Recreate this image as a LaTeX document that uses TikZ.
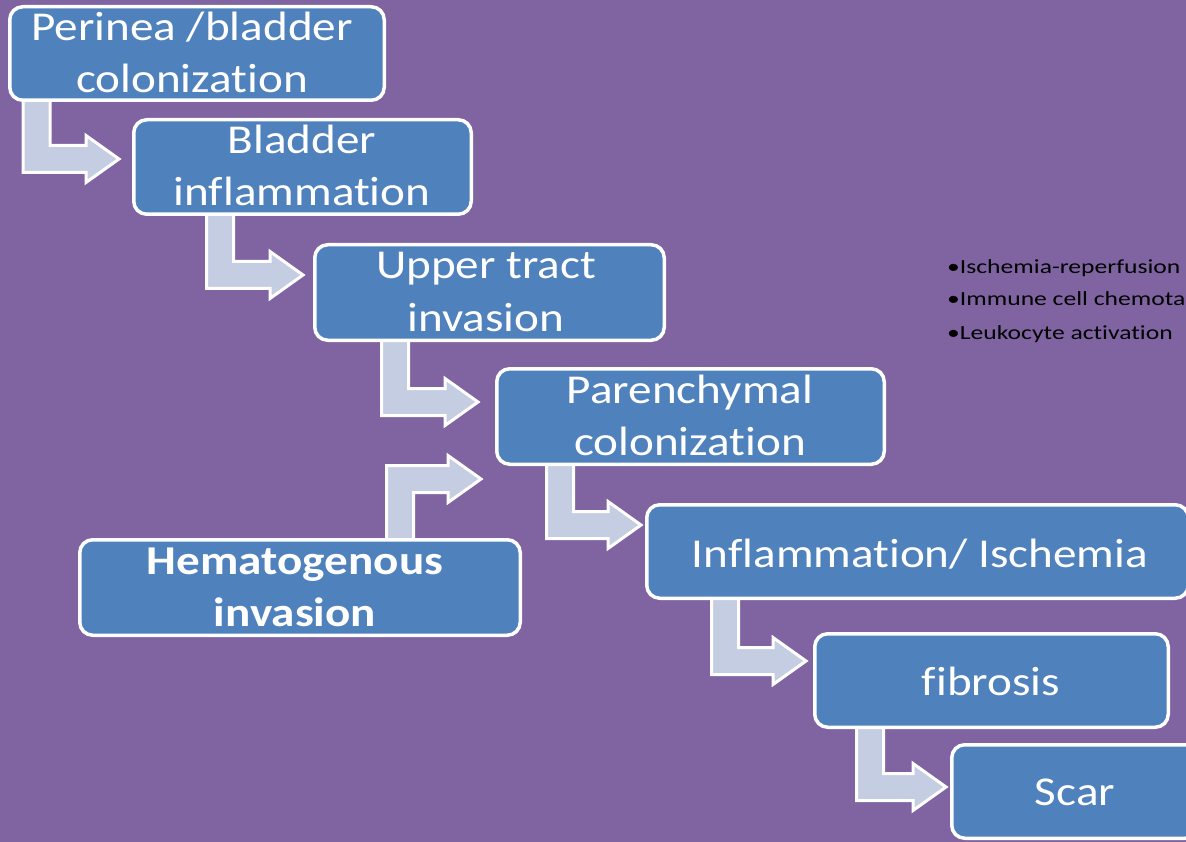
\documentclass[tikz,border=0pt]{standalone}
\usepackage{fontspec}
\setmainfont{Carlito}[FakeStretch=1.15, Ligatures=NoCommon]
\newfontfamily\bulletfont{Carlito}[FakeStretch=1.28, Ligatures=NoCommon]
\usetikzlibrary{calc}
\pgfdeclarelayer{back}
\pgfdeclarelayer{mid}
\pgfsetlayers{back,mid,main}
\definecolor{bgpurple}{HTML}{8064A2}
\definecolor{boxblue}{HTML}{4F81BD}
\definecolor{arrowfill}{RGB}{196,205,225}
\tikzset{
  box/.style={draw=white, line width=3.5pt, fill=boxblue, rounded corners=13pt, inner sep=0pt},
  lbl/.style={text=white, anchor=base, inner sep=0pt, font=\fontsize{41}{41}\selectfont},
  blbl/.style={lbl, font=\fontsize{41}{41}\selectfont\bfseries},
  bul/.style={text=black, anchor=base west, inner sep=0pt, font=\bulletfont\fontsize{20}{20}\selectfont},
  blockarrow/.style={draw=white, line width=3pt, fill=arrowfill, line join=miter},
}
% down-then-right block arrow: #1 source node, #2 bar left x, #3 shaft centre y, #4 tip x
\newcommand\downarr[4]{%
  \filldraw[blockarrow] (#2,0 |- #1.center) -- (#2,#3+13.5) -- (#4-33,#3+13.5) -- (#4-33,#3+23.5)
    -- (#4,#3) -- (#4-33,#3-23.5) -- (#4-33,#3-13.5) -- (#2+27,#3-13.5) -- (#2+27,0 |- #1.center) -- cycle;}
% up-then-right block arrow
\newcommand\uparr[4]{%
  \filldraw[blockarrow] (#2,0 |- #1.center) -- (#2,#3-13.5) -- (#4-33,#3-13.5) -- (#4-33,#3-23.5)
    -- (#4,#3) -- (#4-33,#3+23.5) -- (#4-33,#3+13.5) -- (#2+27,#3+13.5) -- (#2+27,0 |- #1.center) -- cycle;}
\begin{document}
\begin{tikzpicture}[x=1pt,y=-1pt]
\useasboundingbox (0,0) rectangle (1186,842);
\begin{pgfonlayer}{back}
  \fill[bgpurple] (0,0) rectangle (1186,842);
\end{pgfonlayer}
\clip (0,0) rectangle (1186,842);

% boxes
\node[box, minimum width=374.5pt, minimum height=93.5pt] (b1) at (197,53.5) {};
\node[box, minimum width=337.5pt, minimum height=94.5pt] (b2) at (302.5,167) {};
\node[box, minimum width=349.5pt, minimum height=95.5pt] (b3) at (489.5,292.5) {};
\node[box, minimum width=387.5pt, minimum height=95.5pt] (b4) at (690.5,416.5) {};
\node[box, minimum width=440.5pt, minimum height=95.5pt] (b5) at (300,587.5) {};
\node[box, minimum width=541.5pt, minimum height=93.5pt] (b6) at (917.5,551.5) {};
\node[box, minimum width=353.5pt, minimum height=93.5pt] (b7) at (991.5,680.5) {};
\node[box, minimum width=246.5pt, minimum height=93.5pt] (b8) at (1075,791.5) {};

% labels
\node[lbl] (t1a) at (192,41) {Perinea /bladder};
\node[lbl] (t1b) at (192,93) {colonization};
\node[lbl] (t2a) at (302,154) {Bladder};
\node[lbl] (t2b) at (302,206) {inflammation};
\node[lbl] (t3a) at (486,279) {Upper tract};
\node[lbl] (t3b) at (486,331) {invasion};
\node[lbl] (t4a) at (690,403) {Parenchymal};
\node[lbl] (t4b) at (690,455) {colonization};
\node[blbl] (t5a) at (295,574) {Hematogenous};
\node[blbl] (t5b) at (295,626) {invasion};
\node[lbl] (t6) at (920,567) {Inflammation/ Ischemia};
\node[lbl] (t7) at (991,695) {fibrosis};
\node[lbl] (t8) at (1075,805) {Scar};

% bullet list
\node[bul] (l1) at (947,274) {•Ischemia-reperfusion};
\node[bul] (l2) at (947,306) {•Immune cell chemota};
\node[bul] (l3) at (947,339) {•Leukocyte activation};

% block arrows (behind the boxes)
\begin{pgfonlayer}{mid}
  \downarr{b1}{23}{159}{119}
  \downarr{b2}{206.5}{275}{303}
  \downarr{b3}{381.5}{402}{478}
  \uparr{b5}{386.5}{479}{481}
  \downarr{b4}{546.5}{525}{641}
  \downarr{b6}{711.5}{661}{806}
  \downarr{b7}{856.5}{787}{946}
\end{pgfonlayer}
\end{tikzpicture}
\end{document}
